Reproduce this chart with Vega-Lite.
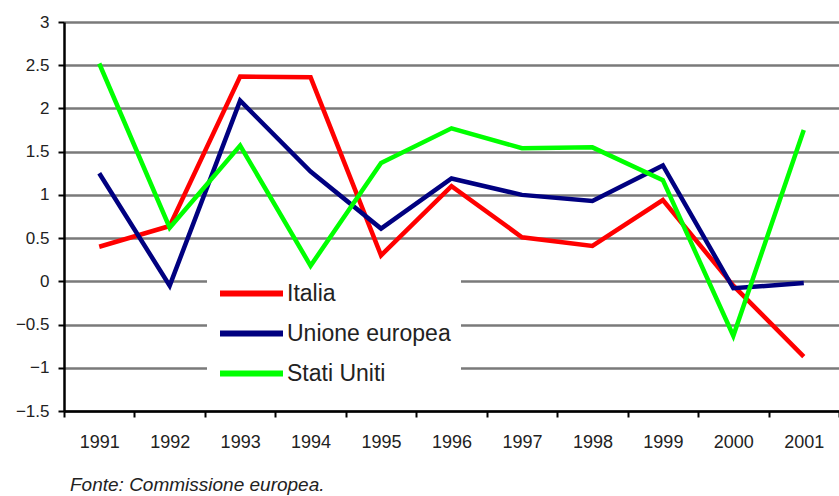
{
  "$schema": "https://vega.github.io/schema/vega-lite/v6.json",
  "width": 775,
  "height": 389,
  "autosize": {"type": "none"},
  "padding": {"left": 64, "top": 22, "right": 0, "bottom": 85},
  "background": "white",
  "config": {
    "view": {"stroke": null},
    "font": "Liberation Sans"
  },
  "title": {
    "text": "Fonte: Commissione europea.",
    "orient": "bottom",
    "anchor": "start",
    "frame": "group",
    "fontStyle": "italic",
    "fontWeight": "normal",
    "fontSize": 19,
    "color": "#222222",
    "dx": 6,
    "offset": 25
  },
  "data": {
    "values": [
      {"anno": "1991", "serie": "Italia", "valore": 0.4},
      {"anno": "1992", "serie": "Italia", "valore": 0.64},
      {"anno": "1993", "serie": "Italia", "valore": 2.37},
      {"anno": "1994", "serie": "Italia", "valore": 2.36},
      {"anno": "1995", "serie": "Italia", "valore": 0.3},
      {"anno": "1996", "serie": "Italia", "valore": 1.1},
      {"anno": "1997", "serie": "Italia", "valore": 0.51},
      {"anno": "1998", "serie": "Italia", "valore": 0.41},
      {"anno": "1999", "serie": "Italia", "valore": 0.94},
      {"anno": "2000", "serie": "Italia", "valore": -0.05},
      {"anno": "2001", "serie": "Italia", "valore": -0.87},
      {"anno": "1991", "serie": "Unione europea", "valore": 1.25},
      {"anno": "1992", "serie": "Unione europea", "valore": -0.05},
      {"anno": "1993", "serie": "Unione europea", "valore": 2.09},
      {"anno": "1994", "serie": "Unione europea", "valore": 1.27},
      {"anno": "1995", "serie": "Unione europea", "valore": 0.61},
      {"anno": "1996", "serie": "Unione europea", "valore": 1.19},
      {"anno": "1997", "serie": "Unione europea", "valore": 1.0},
      {"anno": "1998", "serie": "Unione europea", "valore": 0.93},
      {"anno": "1999", "serie": "Unione europea", "valore": 1.34},
      {"anno": "2000", "serie": "Unione europea", "valore": -0.08},
      {"anno": "2001", "serie": "Unione europea", "valore": -0.02},
      {"anno": "1991", "serie": "Stati Uniti", "valore": 2.52},
      {"anno": "1992", "serie": "Stati Uniti", "valore": 0.62},
      {"anno": "1993", "serie": "Stati Uniti", "valore": 1.57},
      {"anno": "1994", "serie": "Stati Uniti", "valore": 0.18},
      {"anno": "1995", "serie": "Stati Uniti", "valore": 1.37},
      {"anno": "1996", "serie": "Stati Uniti", "valore": 1.77},
      {"anno": "1997", "serie": "Stati Uniti", "valore": 1.54},
      {"anno": "1998", "serie": "Stati Uniti", "valore": 1.55},
      {"anno": "1999", "serie": "Stati Uniti", "valore": 1.17},
      {"anno": "2000", "serie": "Stati Uniti", "valore": -0.63},
      {"anno": "2001", "serie": "Stati Uniti", "valore": 1.75}
    ]
  },
  "mark": {"type": "line", "strokeWidth": 4.5, "strokeJoin": "miter", "strokeCap": "butt"},
  "encoding": {
    "x": {
      "field": "anno",
      "type": "ordinal",
      "bandPosition": 0.5,
      "scale": {"type": "band", "paddingInner": 0, "paddingOuter": 0},
      "axis": {
        "title": null,
        "labelAngle": 0,
        "labelFontSize": 18,
        "labelColor": "#222222",
        "labelPadding": 16,
        "tickBand": "extent",
        "tickSize": 6,
        "tickColor": "#000000",
        "tickWidth": 2,
        "domainColor": "#000000",
        "domainWidth": 2.5,
        "grid": false
      }
    },
    "y": {
      "field": "valore",
      "type": "quantitative",
      "scale": {"domain": [-1.5, 3], "nice": false, "zero": false},
      "axis": {
        "title": null,
        "values": [-1.5, -1, -0.5, 0, 0.5, 1, 1.5, 2, 2.5, 3],
        "format": "~g",
        "labelFontSize": 17,
        "labelColor": "#222222",
        "labelPadding": 9,
        "tickSize": 6,
        "tickColor": "#000000",
        "tickWidth": 2,
        "domainColor": "#000000",
        "domainWidth": 2.5,
        "grid": true,
        "gridColor": "#7a7a7a",
        "gridWidth": 2.5,
        "gridOpacity": 1
      }
    },
    "color": {
      "field": "serie",
      "type": "nominal",
      "sort": ["Italia", "Unione europea", "Stati Uniti"],
      "scale": {
        "domain": ["Italia", "Unione europea", "Stati Uniti"],
        "range": ["#ff0000", "#000080", "#00ff00"]
      },
      "legend": {
        "title": null,
        "orient": "none",
        "legendX": 143,
        "legendY": 248,
        "fillColor": "white",
        "padding": 10,
        "symbolType": "M-1,0H5",
        "symbolSize": 441,
        "symbolStrokeWidth": 6,
        "labelFontSize": 23,
        "labelLimit": 400,
        "labelColor": "#222222",
        "labelOffset": 43,
        "rowPadding": 14
      }
    }
  }
}
